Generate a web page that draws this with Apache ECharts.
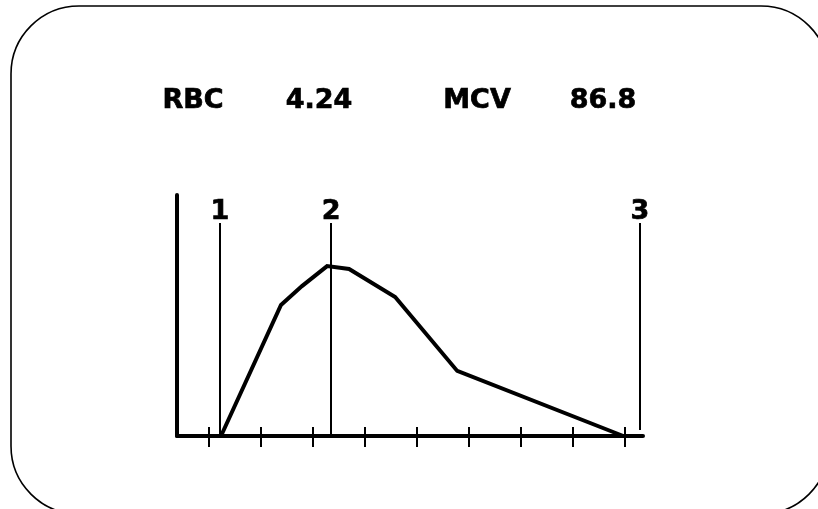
<!DOCTYPE html>
<html>
<head>
<meta charset="utf-8">
<script src="https://cdn.jsdelivr.net/npm/echarts@6/dist/echarts.min.js"></script>
<style>
  html, body { margin: 0; padding: 0; background: #fff; }
  #chart { width: 818px; height: 509px; }
</style>
</head>
<body>
<div id="chart"></div>
<script>
// Header readings
var headerLabels = ['RBC', '4.24', 'MCV', '86.8'];

// RBC volume distribution curve (x: volume scale, y: relative count)
var curveX = [5.7, 34.6, 44.7, 56.8, 67.4, 89.6, 119.5, 199.5];
var curveY = [0, 54.4, 62.2, 70.5, 69.3, 57.7, 27.0, 0];

// Discriminator lines: name, position, start and end heights
var markerNames = ['1', '2', '3'];
var markerX = [5.2, 58.7, 207.5];
var markerLow = [0, 0, 2.5];
var markerHigh = [88.4, 88.4, 88.4];

// Tick positions along the volume axis
var tickValues = [0, 25, 50, 75, 100, 125, 150, 175, 200];

var FONT = 'DejaVu Sans';

var curveData = curveX.map(function (x, i) { return [x, curveY[i]]; });
var markerData = markerNames.map(function (n, i) {
  return [
    { coord: [markerX[i], markerLow[i]] },
    { coord: [markerX[i], markerHigh[i]], name: n }
  ];
});

var headerPos = [193, 319, 477, 603];
var headerTexts = headerLabels.map(function (t, i) {
  return {
    type: 'text',
    x: headerPos[i],
    y: 101,
    style: {
      text: t,
      fill: '#000',
      stroke: '#000',
      lineWidth: 0.7,
      font: 'bold 27px "' + FONT + '"',
      textAlign: 'center',
      textVerticalAlign: 'middle'
    }
  };
});

var chart = echarts.init(document.getElementById('chart'), null, { renderer: 'canvas' });
chart.setOption({
  animation: false,
  backgroundColor: '#fff',
  grid: { left: 177, right: 175, top: 195, bottom: 73 },
  xAxis: [
    {
      type: 'value', min: -15.5, max: 209,
      axisLine: { show: true, onZero: false, lineStyle: { color: '#000', width: 4 } },
      axisTick: { show: true, customValues: tickValues, inside: false, length: 11, lineStyle: { color: '#000', width: 2 } },
      axisLabel: { show: false },
      splitLine: { show: false }
    },
    {
      type: 'value', min: -15.5, max: 209, position: 'bottom',
      axisLine: { show: false, onZero: false },
      axisTick: { show: true, customValues: tickValues, inside: true, length: 9, lineStyle: { color: '#000', width: 2 } },
      axisLabel: { show: false },
      splitLine: { show: false }
    }
  ],
  yAxis: {
    type: 'value', min: 0, max: 100,
    axisLine: { show: true, onZero: false, lineStyle: { color: '#000', width: 4 } },
    axisTick: { show: false },
    axisLabel: { show: false },
    splitLine: { show: false }
  },
  series: [
    {
      type: 'line',
      data: curveData,
      symbol: 'none',
      lineStyle: { color: '#000', width: 4, join: 'miter' },
      z: 3,
      markLine: {
        silent: true,
        symbol: ['none', 'none'],
        lineStyle: { color: '#000', width: 2, type: 'solid' },
        label: {
          show: true,
          position: 'end',
          distance: -3,
          formatter: '{b}',
          color: '#000',
          textBorderColor: '#000',
          textBorderWidth: 0.7,
          fontFamily: FONT,
          fontWeight: 'bold',
          fontSize: 27
        },
        data: markerData
      }
    }
  ],
  graphic: [
    {
      type: 'rect',
      shape: { x: 11, y: 6, width: 818, height: 508, r: 68 },
      style: { fill: 'none', stroke: '#000', lineWidth: 1.6 },
      z: -1
    }
  ].concat(headerTexts)
});
</script>
</body>
</html>
